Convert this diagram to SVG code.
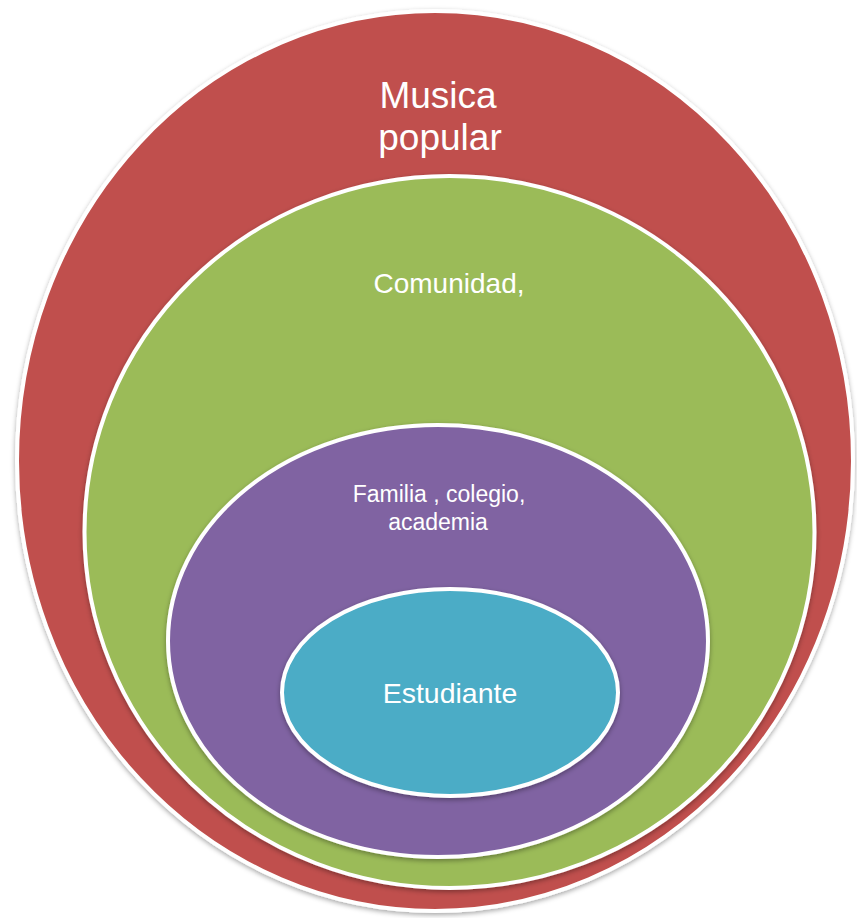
<svg xmlns="http://www.w3.org/2000/svg" width="857" height="918" viewBox="0 0 857 918">
  <defs>
    <filter id="sh" x="-10%" y="-10%" width="120%" height="120%">
      <feDropShadow dx="0" dy="2" stdDeviation="2.5" flood-color="#000" flood-opacity="0.35"/>
    </filter>
  </defs>
  <style>
    .ring { stroke: #ffffff; stroke-width: 4; filter: url(#sh); }
    .lbl { font-family: "Liberation Sans", Arial, sans-serif; fill: #ffffff; text-anchor: middle; }
  </style>
  <rect width="857" height="918" fill="#ffffff"/>
  <g id="musica-popular">
    <ellipse class="ring" cx="435" cy="461" rx="418" ry="450" fill="#C0504D"/>
    <text class="lbl" x="438" y="108" font-size="37">Musica</text>
    <text class="lbl" x="440" y="150" font-size="37">popular</text>
  </g>
  <g id="comunidad">
    <ellipse class="ring" cx="449.5" cy="532" rx="365" ry="356" fill="#9BBB59"/>
    <text class="lbl" x="449" y="293" font-size="28" fill="#FFFFEE">Comunidad,</text>
  </g>
  <g id="familia">
    <ellipse class="ring" cx="438" cy="641" rx="270" ry="216" fill="#8064A2"/>
    <text class="lbl" x="439" y="502" font-size="23">Familia , colegio,</text>
    <text class="lbl" x="438" y="530" font-size="23">academia</text>
  </g>
  <g id="estudiante">
    <ellipse class="ring" cx="450" cy="692.5" rx="168" ry="103.5" fill="#4BACC6"/>
    <text class="lbl" x="450" y="703" font-size="28.5">Estudiante</text>
  </g>
  <g id="connectors"></g>
</svg>
